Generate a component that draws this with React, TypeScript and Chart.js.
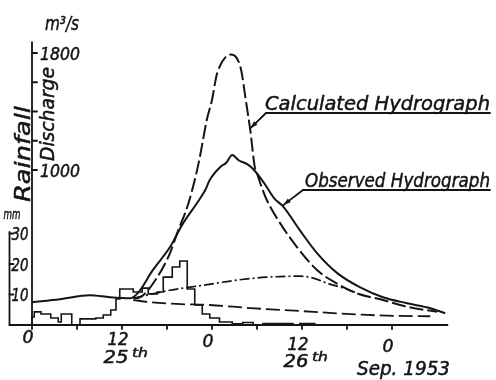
import { useEffect, useRef } from 'react';
import { Chart, registerables } from 'chart.js';

Chart.register(...registerables);

// Time is counted in hours from 0h on 25 September 1953.
// Discharge in m³/s, rainfall in mm per hour.
const observedHours = [0, 3.7, 7.7, 10.4, 13.1, 14.1, 16.1, 18.4, 20.0, 22.0, 23.1, 23.7, 25.1, 25.9, 26.7, 27.6, 28.7, 29.6, 31.0, 32.3, 33.5, 35.7, 38.0, 40.7, 43.7, 46.8, 50.0, 53.1, 55.1];
const observedFlow = [96, 116, 144, 130, 123, 158, 315, 473, 623, 774, 863, 932, 1020, 1050, 1103, 1065, 1040, 1000, 907, 806, 750, 589, 432, 295, 199, 130, 89, 55, 21];

const calculatedHours = [13.5, 14.4, 16.7, 18.4, 19.5, 20.7, 21.7, 22.3, 22.8, 23.3, 24.0, 24.6, 25.1, 25.7, 26.5, 27.3, 27.9, 28.5, 29.1, 29.7, 30.0, 30.6, 31.3, 33.1, 35.3, 38.0, 40.6, 43.3, 46.8, 50.0, 54.0];
const calculatedFlow = [123, 130, 267, 432, 589, 747, 932, 1068, 1205, 1342, 1479, 1645, 1715, 1765, 1790, 1765, 1680, 1479, 1274, 1021, 976, 886, 795, 635, 475, 316, 225, 157, 111, 65, 31];

const directHours = [13.5, 18.4, 22.8, 27.3, 31.3, 35.7, 37.5, 39.3, 41.5, 43.3];
const directFlow = [123, 178, 212, 247, 267, 274, 261, 227, 193, 160];

const baseHours = [13.5, 15.7, 19.3, 23.7, 29.1, 35.7, 40.1, 44.7, 49.1, 53.1];
const baseFlow = [111, 97, 84, 77, 56, 36, 22, 9, 2, 0];

const rainHours = [0, 0.3, 1.2, 2.5, 3.5, 3.9, 5.3, 6.4, 8.5, 9.5, 10.5, 11.2, 11.7, 13.5, 14.7, 15.5, 16.7, 17.5, 18.7, 19.7, 20.7, 21.7, 22.7, 23.7, 25.0, 26.7, 28.1, 29.5, 30.8, 34.8, 35.7, 37.7, 38.8, 42.0];
const rainDepth = [0, 2.6, 4.3, 3.6, 2.3, 1.0, 3.6, 0, 2.0, 2.3, 3.3, 4.9, 8.5, 11.8, 10.8, 12.1, 10.2, 10.8, 15.7, 19.0, 21.0, 11.8, 6.6, 3.6, 2.3, 1.0, 0.4, 0.8, 0, 0.5, 0, 0.5, 0, 0];

const timeTicks = [0, 6, 12, 18, 24, 30, 36, 42, 48];
const timeLabelHours = [0, 12, 24, 36, 48];
const timeLabelText = ['0', '12', '0', '12', '0'];
const dayLabelHours = [12, 36];
const dayLabelText = ['25', '26'];

const flowTicks = [1000, 1200, 1400, 1600, 1800];
const flowLabels = [1000, 1800];
const rainTicks = [10, 20, 30];

const INK = '#141414';
const FONT = '"DejaVu Sans", "Liberation Sans", sans-serif';

const pts = (xs: number[], ys: number[]) => xs.map((x, i) => ({ x, y: ys[i] }));

type Ctx = CanvasRenderingContext2D;

// Italic lettering squeezed or stretched to a given width, slightly thickened.
function letter(ctx: Ctx, text: string, x: number, y: number, size: number, width: number, align: 'left' | 'center' = 'left', angle = 0) {
  ctx.save();
  ctx.font = `italic ${size}px ${FONT}`;
  ctx.fillStyle = INK;
  ctx.strokeStyle = INK;
  ctx.lineWidth = 0.5;
  ctx.lineJoin = 'round';
  ctx.textBaseline = 'alphabetic';
  ctx.textAlign = 'left';
  const w = ctx.measureText(text).width;
  ctx.translate(x, y);
  if (angle) ctx.rotate(angle);
  ctx.scale(width / w, 1);
  const x0 = align === 'center' ? -w / 2 : 0;
  ctx.fillText(text, x0, 0);
  ctx.strokeText(text, x0, 0);
  ctx.restore();
}

function seg(ctx: Ctx, x1: number, y1: number, x2: number, y2: number) {
  ctx.beginPath();
  ctx.moveTo(x1, y1);
  ctx.lineTo(x2, y2);
  ctx.stroke();
}

function arrowLabel(ctx: Ctx, tipX: number, tipY: number, startX: number, lineY: number, endX: number) {
  seg(ctx, startX, lineY, endX, lineY);
  seg(ctx, startX, lineY, tipX, tipY);
  const a = Math.atan2(tipY - lineY, tipX - startX);
  const len = 8;
  ctx.beginPath();
  ctx.moveTo(tipX, tipY);
  ctx.lineTo(tipX - len * Math.cos(a - 0.3), tipY - len * Math.sin(a - 0.3));
  ctx.lineTo(tipX - len * Math.cos(a + 0.3), tipY - len * Math.sin(a + 0.3));
  ctx.closePath();
  ctx.fill();
}

const axesPlugin = {
  id: 'hydrographAxes',
  afterDatasetsDraw(chart: any) {
    const ctx: Ctx = chart.ctx;
    const xs = chart.scales.x;
    const fs = chart.scales.yFlow;
    const rs = chart.scales.yRain;
    const X = (h: number) => xs.getPixelForValue(h);
    const base = rs.getPixelForValue(0);

    ctx.save();
    ctx.strokeStyle = INK;
    ctx.fillStyle = INK;
    ctx.lineWidth = 1.8;
    ctx.lineCap = 'round';

    // discharge axis
    const fx = X(0);
    seg(ctx, fx, fs.getPixelForValue(1875), fx, base);
    flowTicks.forEach((v) => seg(ctx, fx, fs.getPixelForValue(v), fx + 5, fs.getPixelForValue(v)));
    flowLabels.forEach((v) => letter(ctx, String(v), fx + 8, fs.getPixelForValue(v) + 7, 18, 40));
    letter(ctx, 'm³/s', fx + 13, 30, 19, 34);

    // rainfall axis
    const rx = X(-3);
    seg(ctx, rx, rs.getPixelForValue(30.5), rx, base);
    rainTicks.forEach((v) => seg(ctx, rx, rs.getPixelForValue(v), rx + 4, rs.getPixelForValue(v)));
    rainTicks.forEach((v) => letter(ctx, String(v), rx + 2, rs.getPixelForValue(v) + 7, 17, 17));
    letter(ctx, 'mm', rx - 6, 219, 14, 17);

    // axis titles, written upwards
    letter(ctx, 'Rainfall', 30, 202, 22, 96, 'left', -Math.PI / 2);
    letter(ctx, 'Discharge', 54, 161, 20, 94, 'left', -Math.PI / 2);

    // time axis
    ctx.lineWidth = 1.8;
    seg(ctx, rx, base, X(55.4), base);
    timeTicks.forEach((h) => seg(ctx, X(h), base, X(h), base + 4));
    timeLabelHours.forEach((h, i) => {
      const cx = X(h) - 4;
      letter(ctx, timeLabelText[i], cx, 343 + 0.024 * (cx - 27), 17, timeLabelText[i].length > 1 ? 21 : 11, 'center');
    });
    dayLabelHours.forEach((h, i) => {
      const cx = X(h) - 6;
      const by = 363 + 0.024 * (cx - 115);
      letter(ctx, dayLabelText[i], cx, by, 17, 25, 'center');
      letter(ctx, 'th', cx + 16, by - 6, 13, 16);
    });
    letter(ctx, 'Sep. 1953', 357, 375, 19, 93);

    // curve names with leaders
    ctx.lineWidth = 1.8;
    arrowLabel(ctx, X(29.1), fs.getPixelForValue(1285), 266, 113, 490);
    letter(ctx, 'Calculated Hydrograph', 265, 110, 20, 225);
    ctx.lineWidth = 1.8;
    arrowLabel(ctx, X(33.5), fs.getPixelForValue(760), 303, 190, 490);
    letter(ctx, 'Observed Hydrograph', 305, 187, 20, 185);

    ctx.restore();
  },
};

export default function App() {
  const canvasRef = useRef<HTMLCanvasElement | null>(null);

  useEffect(() => {
    const canvas = canvasRef.current;
    if (!canvas) return;
    const line = {
      borderColor: INK,
      pointRadius: 0,
      fill: false,
      clip: false as const,
      yAxisID: 'yFlow',
      cubicInterpolationMode: 'monotone' as const,
    };
    const chart = new Chart(canvas, {
      type: 'line',
      data: {
        datasets: [
          { ...line, label: 'Rainfall', data: pts(rainHours, rainDepth), yAxisID: 'yRain', stepped: 'after', borderWidth: 1.6, cubicInterpolationMode: 'default' },
          { ...line, label: 'Observed Hydrograph', data: pts(observedHours, observedFlow), borderWidth: 2 },
          { ...line, label: 'Calculated Hydrograph', data: pts(calculatedHours, calculatedFlow), borderWidth: 2, borderDash: [14, 4] },
          { ...line, label: 'Direct runoff', data: pts(directHours, directFlow), borderWidth: 1.7, borderDash: [10, 3, 2, 3] },
          { ...line, label: 'Base flow', data: pts(baseHours, baseFlow), borderWidth: 1.8, borderDash: [14, 5] },
        ] as any,
      },
      options: {
        responsive: false,
        animation: false,
        layout: { padding: { left: 32, right: 44, top: 16, bottom: 55 } },
        scales: {
          x: { type: 'linear', axis: 'x', min: 0, max: 56, display: false },
          yFlow: { type: 'linear', axis: 'y', min: -59.8, max: 2053, display: false },
          yRain: { type: 'linear', axis: 'y', min: 0, max: 101.3, display: false },
        },
        plugins: { legend: { display: false }, tooltip: { enabled: false } },
      } as any,
      plugins: [axesPlugin],
    });
    return () => chart.destroy();
  }, []);

  return (
    <div style={{ position: 'fixed', left: 0, top: 0, width: 496, height: 380, background: '#fff' }}>
      <canvas ref={canvasRef} width={496} height={380} />
    </div>
  );
}
